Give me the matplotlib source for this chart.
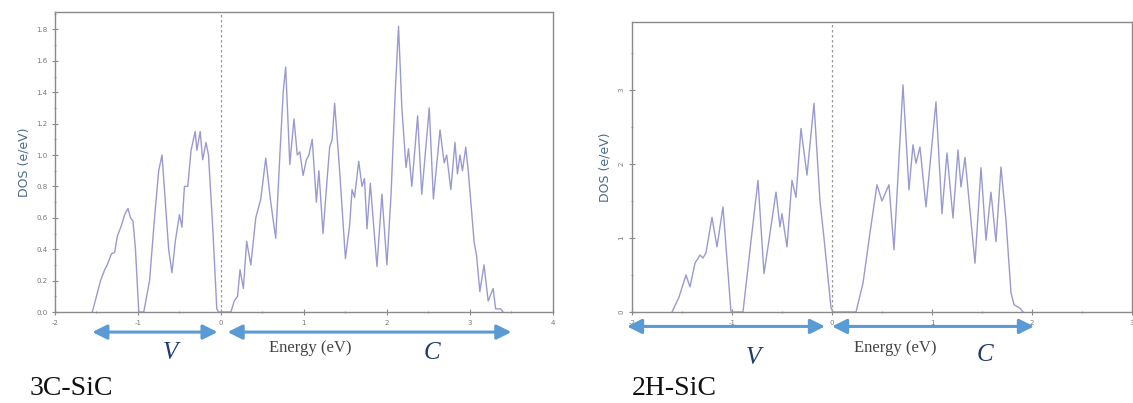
import numpy as np
import matplotlib.pyplot as plt
import matplotlib.transforms as mtransforms
from matplotlib.ticker import MultipleLocator

plt.rcParams['axes.unicode_minus'] = False

# 3C-SiC DOS (energy in axis units, DOS in e/eV)
e_3c = [-1.55, -1.50, -1.45, -1.40, -1.37, -1.32, -1.28, -1.25, -1.20, -1.16, -1.12, -1.09,
        -1.06, -1.03, -0.99, -0.93, -0.86, -0.80, -0.75, -0.71, -0.67, -0.63, -0.59, -0.55,
        -0.50, -0.47, -0.44, -0.40, -0.36, -0.31, -0.29, -0.25, -0.22, -0.18, -0.15, -0.10,
        -0.05, -0.03, 0.12, 0.16, 0.20, 0.23, 0.27, 0.31, 0.36, 0.42, 0.48, 0.54, 0.60,
        0.66, 0.71, 0.75, 0.78, 0.83, 0.88, 0.92, 0.95, 0.99, 1.03, 1.06, 1.10, 1.15, 1.18,
        1.23, 1.28, 1.31, 1.34, 1.37, 1.43, 1.50, 1.55, 1.58, 1.61, 1.66, 1.70, 1.73, 1.76,
        1.80, 1.84, 1.88, 1.94, 2.00, 2.05, 2.10, 2.14, 2.18, 2.23, 2.26, 2.30, 2.37, 2.42,
        2.51, 2.56, 2.64, 2.69, 2.72, 2.77, 2.82, 2.85, 2.88, 2.91, 2.95, 2.98, 3.05, 3.08,
        3.12, 3.17, 3.22, 3.28, 3.31, 3.37, 3.40]
dos_3c = [0.00, 0.10, 0.20, 0.27, 0.30, 0.37, 0.38, 0.48, 0.55, 0.62, 0.66, 0.60,
          0.58, 0.40, 0.00, 0.00, 0.20, 0.60, 0.90, 1.00, 0.70, 0.40, 0.25, 0.45,
          0.62, 0.54, 0.80, 0.80, 1.03, 1.15, 1.03, 1.15, 0.97, 1.08, 1.00, 0.55,
          0.02, 0.00, 0.00, 0.07, 0.10, 0.27, 0.15, 0.45, 0.30, 0.60, 0.72, 0.98, 0.70,
          0.47, 1.00, 1.40, 1.56, 0.94, 1.23, 1.00, 1.02, 0.87, 0.97, 1.00, 1.10, 0.70, 0.90,
          0.50, 0.85, 1.05, 1.10, 1.33, 0.90, 0.34, 0.55, 0.78, 0.73, 0.96, 0.80, 0.85, 0.53,
          0.82, 0.55, 0.29, 0.75, 0.30, 0.75, 1.40, 1.82, 1.30, 0.92, 1.04, 0.80, 1.25, 0.75,
          1.30, 0.72, 1.16, 0.95, 1.00, 0.78, 1.08, 0.88, 1.00, 0.90, 1.05, 0.90, 0.45, 0.36,
          0.13, 0.30, 0.07, 0.15, 0.02, 0.02, 0.00]

# 2H-SiC DOS
e_2h = [-1.60, -1.53, -1.46, -1.42, -1.37, -1.32, -1.29, -1.26, -1.20, -1.15, -1.09, -1.01,
        -0.89, -0.82, -0.74, -0.68, -0.63, -0.56, -0.52, -0.50, -0.45, -0.40, -0.36, -0.31,
        -0.25, -0.18, -0.12, -0.08, -0.01, 0.01, 0.24, 0.31, 0.38, 0.45, 0.50, 0.57, 0.62,
        0.71, 0.77, 0.81, 0.84, 0.88, 0.94, 1.04, 1.10, 1.15, 1.21, 1.26, 1.29, 1.33, 1.43,
        1.49, 1.54, 1.59, 1.64, 1.69, 1.74, 1.79, 1.82, 1.88, 1.91]
dos_2h = [0.00, 0.20, 0.50, 0.34, 0.66, 0.77, 0.73, 0.80, 1.28, 0.88, 1.42, 0.00,
          0.00, 0.84, 1.78, 0.52, 0.97, 1.62, 1.15, 1.33, 0.88, 1.78, 1.55, 2.48,
          1.85, 2.82, 1.50, 1.00, 0.06, 0.00, 0.00, 0.39, 1.07, 1.72, 1.50, 1.72, 0.84,
          3.07, 1.65, 2.26, 2.01, 2.23, 1.42, 2.84, 1.33, 2.15, 1.27, 2.19, 1.69, 2.09, 0.66,
          1.95, 0.97, 1.62, 0.95, 1.96, 1.24, 0.26, 0.10, 0.05, 0.00]

line_col = '#9a9ad0'
spine_col = '#8a8a8a'
arrow_col = '#5b9bd5'
letter_col = '#1f3b6e'

fig = plt.figure(figsize=(11.33, 4.03), dpi=100)

ax1 = fig.add_axes([0.0485, 0.2258, 0.4395, 0.744])
ax2 = fig.add_axes([0.5578, 0.2258, 0.4413, 0.7196])

ax1.plot(e_3c, dos_3c, color=line_col, lw=1.0)
ax1.set_xlim(-2, 4)
ax1.set_ylim(0, 1.91)
ax1.set_xticks(np.arange(-2, 5, 1))
ax1.set_yticks(np.arange(0, 1.81, 0.2))
ax1.set_yticklabels([f'{v:.1f}' for v in np.arange(0, 1.81, 0.2)])
ax1.xaxis.set_minor_locator(MultipleLocator(0.5))
ax1.yaxis.set_minor_locator(MultipleLocator(0.1))

ax2.plot(e_2h, dos_2h, color=line_col, lw=1.0)
ax2.set_xlim(-2, 3)
ax2.set_ylim(0, 3.92)
ax2.set_xticks(np.arange(-2, 4, 1))
ax2.set_yticks([0, 1, 2, 3])
ax2.xaxis.set_minor_locator(MultipleLocator(0.5))
ax2.yaxis.set_minor_locator(MultipleLocator(0.5))
for lab in ax2.get_yticklabels():
    lab.set_rotation(90)
    lab.set_va('center')

for ax in (ax1, ax2):
    ax.axvline(0, color='#999999', lw=0.9, ls=(0, (2, 2)))
    for s in ax.spines.values():
        s.set_color(spine_col)
        s.set_linewidth(1.0)
    ax.tick_params(which='both', direction='inout', colors=spine_col,
                   labelsize=5, labelcolor='#777777')
    ax.tick_params(which='major', length=4)
    ax.tick_params(which='minor', length=2)
ax1.set_ylabel('DOS (e/eV)', fontsize=9, color='#4a6a8e', labelpad=4)
ax2.set_ylabel('DOS (e/eV)', fontsize=9, color='#4a6a8e', labelpad=5)

# blue double arrows marking valence (V) and conduction (C) bands
def band_arrow(ax, x0, x1, yfig):
    tr = mtransforms.blended_transform_factory(ax.transData, fig.transFigure)
    ax.annotate('', xy=(x1, yfig), xytext=(x0, yfig), xycoords=tr, textcoords=tr,
                annotation_clip=False,
                arrowprops=dict(arrowstyle='<|-|>', color=arrow_col, lw=2.2,
                                mutation_scale=22, shrinkA=0, shrinkB=0))

band_arrow(ax1, -1.55, -0.04, 0.176)
band_arrow(ax1, 0.08, 3.5, 0.176)
band_arrow(ax2, -2.05, -0.07, 0.19)
band_arrow(ax2, 0.0, 2.02, 0.19)

serif = 'Liberation Serif'
fig.text(0.150, 0.124, 'V', fontsize=18, style='italic', family=serif, color=letter_col,
         ha='center', va='center')
fig.text(0.381, 0.124, 'C', fontsize=18, style='italic', family=serif, color=letter_col,
         ha='center', va='center')
fig.text(0.665, 0.112, 'V', fontsize=18, style='italic', family=serif, color=letter_col,
         ha='center', va='center')
fig.text(0.869, 0.119, 'C', fontsize=18, style='italic', family=serif, color=letter_col,
         ha='center', va='center')
fig.text(0.274, 0.136, 'Energy (eV)', fontsize=12, family=serif, color='#444444',
         ha='center', va='center')
fig.text(0.790, 0.136, 'Energy (eV)', fontsize=12, family=serif, color='#444444',
         ha='center', va='center')
fig.text(0.0265, 0.037, '3C-SiC', fontsize=20, family=serif, color='#111111',
         ha='left', va='center')
fig.text(0.558, 0.037, '2H-SiC', fontsize=20, family=serif, color='#111111',
         ha='left', va='center')

fig.savefig('out.png', dpi=100)
